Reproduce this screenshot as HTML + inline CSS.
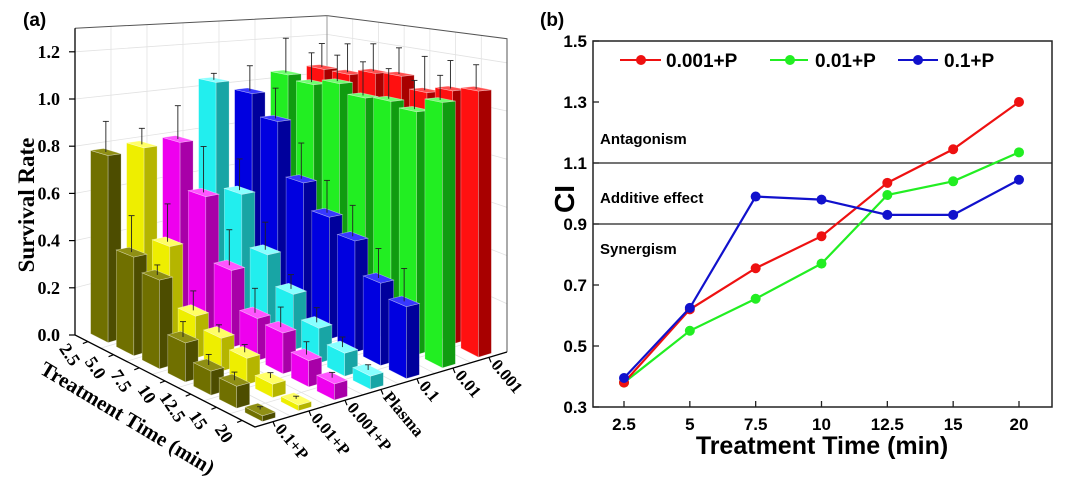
<!DOCTYPE html>
<html><head><meta charset="utf-8"><style>
html,body{margin:0;padding:0;background:#fff;}
svg{display:block;}
.sa{font-family:"Liberation Serif",serif;font-weight:bold;}
.sb{font-family:"Liberation Sans",sans-serif;font-weight:bold;}
</style></head><body>
<svg id="fig" width="1080" height="482" viewBox="0 0 1080 482" xmlns="http://www.w3.org/2000/svg">
<rect width="1080" height="482" fill="#fff"/>
<g id="pa"></g>
<g id="pb"></g>
</svg>
<script>
// ---------- Panel (a) data ----------
const times = ['2.5','5.0','7.5','10','12.5','15','20'];
const groups = ['0.1+P','0.01+P','0.001+P','Plasma','0.1','0.01','0.001'];
const survP01 = [0.78,0.40,0.35,0.15,0.09,0.08,0.02];
const survP001 = [0.79,0.41,0.17,0.13,0.10,0.05,0.02];
const survP0001 = [0.79,0.59,0.32,0.17,0.16,0.10,0.06];
const survPlasma = [1.04,0.57,0.35,0.23,0.14,0.09,0.05];
const surv01 = [0.97,0.87,0.63,0.52,0.46,0.33,0.28];
const surv001 = [1.04,1.02,1.05,1.01,1.02,1.00,1.06];
const surv0001 = [1.05,1.05,1.08,1.09,1.04,1.07,1.09];
const errP01 = [0.13,0.15,0.04,0.06,0.04,0.03,0.01];
const errP001 = [0.07,0.16,0.08,0.03,0.03,0.02,0.01];
const errP0001 = [0.15,0.20,0.15,0.10,0.08,0.05,0.02];
const errPlasma = [0.03,0.14,0.12,0.06,0.06,0.04,0.02];
const err01 = [0.12,0.14,0.16,0.14,0.13,0.12,0.13];
const err001 = [0.17,0.14,0.12,0.15,0.13,0.12,0.10];
const err0001 = [0.12,0.14,0.13,0.12,0.15,0.12,0.10];
const zTicks = ['0.0','0.2','0.4','0.6','0.8','1.0','1.2'];

const NS='http://www.w3.org/2000/svg';
function mk(tag, attrs, parent){const e=document.createElementNS(NS,tag);for(const k in attrs)e.setAttribute(k,attrs[k]);if(parent)parent.appendChild(e);return e;}

const pa=document.getElementById('pa');
const series=[survP01,survP001,survP0001,survPlasma,surv01,surv001,surv0001];
const errs=[errP01,errP001,errP0001,errPlasma,err01,err001,err0001];
const cols=[
 {t:'#8f8f14',l:'#707000',r:'#4d4d00'},
 {t:'#ffff66',l:'#eeee00',r:'#b5b500'},
 {t:'#ff55ff',l:'#ee00ee',r:'#a800a8'},
 {t:'#88ffff',l:'#22eeee',r:'#18a5a5'},
 {t:'#3838ff',l:'#0000e0',r:'#00009c'},
 {t:'#70ff70',l:'#22ee22',r:'#109c10'},
 {t:'#ff5050',l:'#ff1010',r:'#a80000'}];
function proj(u,v,z){const a=u/7,b=v/7;const x=75+180*a+252*b;const y=335+92*a-75*b;const s=236+49*a-48*b+4*a*b;return [x,y-z*s];}
function pts(arr){return arr.map(p=>p[0].toFixed(1)+','+p[1].toFixed(1)).join(' ');}
const ZTOP=1.3;
const wallL=mk('polygon',{points:pts([proj(0,0,0),proj(0,7,0),proj(0,7,ZTOP),proj(0,0,ZTOP)]),fill:'#fff',stroke:'none'},pa);


const grid=mk('g',{stroke:'#e2e2e2','stroke-width':0.8,fill:'none'},pa);


for(let k=1;k<=6;k++){
 const z=k*0.2;
 mk('polyline',{points:pts([proj(0,0,z),proj(0,7,z),proj(7,7,z)])},grid);
}
for(let k=1;k<7;k++){
 mk('line',{x1:proj(0,k,0)[0],y1:proj(0,k,0)[1],x2:proj(0,k,ZTOP)[0],y2:proj(0,k,ZTOP)[1]},grid);
 mk('line',{x1:proj(k,7,0)[0],y1:proj(k,7,0)[1],x2:proj(k,7,ZTOP)[0],y2:proj(k,7,ZTOP)[1]},grid);
 mk('line',{x1:proj(k,0,0)[0],y1:proj(k,0,0)[1],x2:proj(k,7,0)[0],y2:proj(k,7,0)[1]},grid);
 mk('line',{x1:proj(0,k,0)[0],y1:proj(0,k,0)[1],x2:proj(7,k,0)[0],y2:proj(7,k,0)[1]},grid);
}
const frame=mk('g',{stroke:'#555','stroke-width':1,fill:'none'},pa);


mk('polyline',{points:pts([proj(0,0,ZTOP),proj(0,7,ZTOP),proj(7,7,ZTOP),proj(7,7,0)])},frame);
mk('line',{x1:proj(0,7,0)[0],y1:proj(0,7,0)[1],x2:proj(0,7,ZTOP)[0],y2:proj(0,7,ZTOP)[1],stroke:'#999'},frame);
const bars=[];
for(let j=0;j<7;j++)for(let i=0;i<7;i++)bars.push({i,j});
bars.sort((A,B)=>(A.i-A.j)-(B.i-B.j));
const hu=0.34,hv=0.18;
bars.forEach(({i,j})=>{
 const val=series[j][i],er=errs[j][i];
 const u=i+0.5,v=j+0.5;
 const g=mk('g',{},pa);
 
 
 const c=cols[j];
 const b=(du,dv,z)=>proj(u+du,v+dv,z);
 mk('polygon',{points:pts([b(-hu,-hv,0),b(hu,-hv,0),b(hu,-hv,val),b(-hu,-hv,val)]),fill:c.l,stroke:'rgba(255,255,255,0.45)','stroke-width':0.6},g);
 mk('polygon',{points:pts([b(hu,-hv,0),b(hu,hv,0),b(hu,hv,val),b(hu,-hv,val)]),fill:c.r,stroke:'rgba(255,255,255,0.45)','stroke-width':0.6},g);
 mk('polygon',{points:pts([b(-hu,-hv,val),b(hu,-hv,val),b(hu,hv,val),b(-hu,hv,val)]),fill:c.t,stroke:'rgba(255,255,255,0.45)','stroke-width':0.6},g);
 const p0=proj(u,v,val),p1=proj(u,v,val+er);
 mk('line',{x1:p0[0],y1:p0[1],x2:p1[0],y2:p1[1],stroke:'#222','stroke-width':0.9},g);
 mk('line',{x1:p1[0]-3,y1:p1[1],x2:p1[0]+3,y2:p1[1],stroke:'#222','stroke-width':0.9},g);
});
const ax=mk('g',{stroke:'#000','stroke-width':1.3,fill:'none'},pa);


mk('polyline',{points:pts([proj(0,0,ZTOP),proj(0,0,0),proj(7,0,0),proj(7,7,0)])},ax);
const zl=mk('g',{class:'sa','font-size':18,'text-anchor':'end'},pa);


zTicks.forEach((t,k)=>{const p=proj(0,0,k*0.2);mk('line',{x1:p[0]-6,y1:p[1],x2:p[0],y2:p[1],stroke:'#000','stroke-width':1.2},pa);const tx=mk('text',{x:p[0]-15,y:p[1]+6},zl);tx.textContent=t;});
const tl=mk('g',{class:'sa','font-size':18,'text-anchor':'middle'},pa);


times.forEach((t,i)=>{const p=proj(i+0.5,0,0);mk('line',{x1:p[0],y1:p[1],x2:p[0]-5,y2:p[1]+2,stroke:'#000','stroke-width':1.2},pa);const x=p[0]-18,y=p[1]+13;const tx=mk('text',{x:x,y:y+6,transform:'rotate(56 '+x+' '+y+')'},tl);tx.textContent=t;});
const gl=mk('g',{class:'sa','font-size':17,'text-anchor':'start'},pa);


groups.forEach((t,j)=>{const p=proj(7,j+0.5,0);mk('line',{x1:p[0],y1:p[1],x2:p[0]+2,y2:p[1]+5,stroke:'#000','stroke-width':1.2},pa);const x=p[0]+6,y=p[1]+4;const tx=mk('text',{x:x,y:y+6,transform:'rotate(50 '+x+' '+y+')'},gl);tx.textContent=t;});
</script>
<script>
(function(){
 const pa=document.getElementById('pa');
 pa.insertAdjacentHTML('beforeend',
 '<text x="23" y="26" class="sb" font-size="19">(a)</text>'+
 '<text x="0" y="0" class="sa" font-size="23" text-anchor="middle" transform="translate(34 205) rotate(-90)">Survival Rate</text>'+
 '<text x="0" y="0" class="sa" font-size="21" text-anchor="middle" transform="translate(124 424) rotate(31)">Treatment Time (min)</text>');
})();
</script>
<script>
// ---------- Panel (b) data ----------
const ciCats = ['2.5','5','7.5','10','12.5','15','20'];
const ci0001 = [0.38,0.62,0.755,0.86,1.035,1.145,1.30];
const ci001 = [0.38,0.55,0.655,0.77,0.995,1.04,1.135];
const ci01 = [0.395,0.625,0.99,0.98,0.93,0.93,1.045];
const ciTicks = ['0.3','0.5','0.7','0.9','1.1','1.3','1.5'];
const ciBands = [1.1,0.9];

(function(){
 const NS='http://www.w3.org/2000/svg';
 const pb=document.getElementById('pb');
 function mk(tag,a,p){const e=document.createElementNS(NS,tag);for(const k in a)e.setAttribute(k,a[k]);p.appendChild(e);return e;}
 const L=593,R=1052,T=41,B=407;
 const xs=i=>624+i*(1019-624)/6;
 const ys=v=>T+(1.5-v)/1.2*(B-T);
 const box=mk('rect',{x:L,y:T,width:R-L,height:B-T,fill:'none',stroke:'#222','stroke-width':1.5},pb);
 
 
 ciBands.forEach(v=>{const l=mk('line',{x1:L,x2:R,y1:ys(v),y2:ys(v),stroke:'#222','stroke-width':1.3},pb);
  
  });
 ciTicks.forEach(t=>{const y=ys(parseFloat(t));mk('line',{x1:L,x2:L+6,y1:y,y2:y,stroke:'#222','stroke-width':1.3},pb);
  const tx=mk('text',{x:L-6,y:y+6,'text-anchor':'end','font-size':17,class:'sb'},pb);tx.textContent=t;
  
  });
 ciCats.forEach((t,i)=>{const x=xs(i);mk('line',{x1:x,x2:x,y1:B,y2:B-6,stroke:'#222','stroke-width':1.3},pb);
  const tx=mk('text',{x:x,y:B+23,'text-anchor':'middle','font-size':17,class:'sb'},pb);tx.textContent=t;
  
  });
 const ser=[[ci001,'#22ee22','0.01+P'],[ci0001,'#ee1111','0.001+P'],[ci01,'#1111cc','0.1+P']];
 ser.forEach(([arr,c,n])=>{
  const g=mk('g',{},pb);
  
  
  mk('polyline',{points:arr.map((v,i)=>xs(i)+','+ys(v)).join(' '),fill:'none',stroke:c,'stroke-width':2.2},g);
  arr.forEach((v,i)=>{const m=mk('circle',{cx:xs(i),cy:ys(v),r:5,fill:c},g);
   
   });
 });
})();
</script>
<script>
document.getElementById('pb').insertAdjacentHTML('beforeend',
'<text x="540" y="26" class="sb" font-size="19">(b)</text>'+
'<text x="0" y="0" class="sb" font-size="28" text-anchor="middle" transform="translate(574 199) rotate(-90)">CI</text>'+
'<text x="822" y="454" class="sb" font-size="25" text-anchor="middle">Treatment Time (min)</text>'+
'<text x="600" y="144" class="sb" font-size="15">Antagonism</text>'+
'<text x="600" y="203" class="sb" font-size="15">Additive effect</text>'+
'<text x="600" y="254" class="sb" font-size="15">Synergism</text>'+
'<g>'+
'<g><line x1="620" x2="661" y1="60" y2="60" stroke="#ee1111" stroke-width="2"/><circle cx="641" cy="60" r="5" fill="#ee1111"/><text x="666" y="67" class="sb" font-size="19">0.001+P</text></g>'+
'<g><line x1="770" x2="808" y1="60" y2="60" stroke="#22ee22" stroke-width="2"/><circle cx="790" cy="60" r="5" fill="#22ee22"/><text x="815" y="67" class="sb" font-size="19">0.01+P</text></g>'+
'<g><line x1="898" x2="938" y1="60" y2="60" stroke="#1111cc" stroke-width="2"/><circle cx="918" cy="60" r="5" fill="#1111cc"/><text x="944" y="67" class="sb" font-size="19">0.1+P</text></g>'+
'</g>');
</script>
</body></html>
